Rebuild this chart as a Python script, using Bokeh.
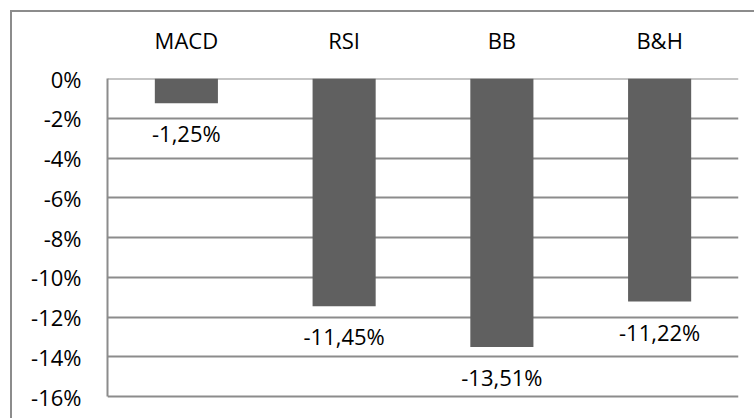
from bokeh.plotting import figure
from bokeh.models import ColumnDataSource, FactorRange, Range1d, LabelSet, FixedTicker
from bokeh.core.properties import value
from bokeh.embed import file_html
from bokeh.resources import INLINE

categories = ["MACD", "RSI", "BB", "B&H"]
returns = [-1.25, -11.45, -13.51, -11.22]
value_labels = ["-1,25%", "-11,45%", "-13,51%", "-11,22%"]
y_ticks = [0, -2, -4, -6, -8, -10, -12, -14, -16]
y_tick_labels = ["0%", "-2%", "-4%", "-6%", "-8%", "-10%", "-12%", "-14%", "-16%"]

FONT = "Open Sans"
GRAY = "#8c8c8c"
FS = "22px"

src = ColumnDataSource(dict(cat=categories, val=returns, lab=value_labels))

p = figure(width=754, height=418, x_range=FactorRange(*categories, range_padding=0),
           y_range=Range1d(-17, 0), output_backend="svg", toolbar_location=None,
           x_axis_location="above", min_border_left=107, min_border_right=16,
           min_border_top=78, min_border_bottom=2)
p.x_range.factor_padding = 0
p.outline_line_color = None
p.background_fill_color = "white"
p.border_fill_color = None
p.styles = {
    "background": (
        "linear-gradient(#8c8c8c, #8c8c8c) 10px 10px / 2px 100% no-repeat, "
        "linear-gradient(#8c8c8c, #8c8c8c) 10px 10px / 100% 2px no-repeat, white"
    )
}

# horizontal gridlines
p.hspan(y=y_ticks, line_color=GRAY, line_width=2, level="underlay")

p.vbar(x="cat", top="val", bottom=0, width=0.4, source=src,
       fill_color="#606060", line_color=None)

p.add_layout(LabelSet(x="cat", y="val", text="lab", source=src, y_offset=-30,
                      text_align="center", text_baseline="middle",
                      text_font=value(FONT), text_font_size=FS, text_color="#000000"))

# y axis
p.yaxis.ticker = FixedTicker(ticks=y_ticks)
p.yaxis.bounds = (y_ticks[-1], y_ticks[0])
p.yaxis.major_label_overrides = {t: l for t, l in zip(y_ticks, y_tick_labels)}
p.yaxis.axis_line_color = GRAY
p.yaxis.axis_line_width = 2
p.yaxis.major_tick_line_color = None
p.yaxis.minor_tick_line_color = None
p.yaxis.major_label_standoff = 20
p.yaxis.major_label_text_font = FONT
p.yaxis.major_label_text_font_size = FS
p.yaxis.major_label_text_color = "#000000"

# x axis (top) with category names
p.xaxis.axis_line_color = None
p.xaxis.major_tick_line_color = None
p.xaxis.minor_tick_line_color = None
p.xaxis.major_label_standoff = 18
p.xaxis.major_label_text_font = FONT
p.xaxis.major_label_text_font_size = FS
p.xaxis.major_label_text_color = "#000000"

p.xgrid.grid_line_color = None
p.ygrid.grid_line_color = None

open("out.html", "w").write(file_html(p, INLINE))
